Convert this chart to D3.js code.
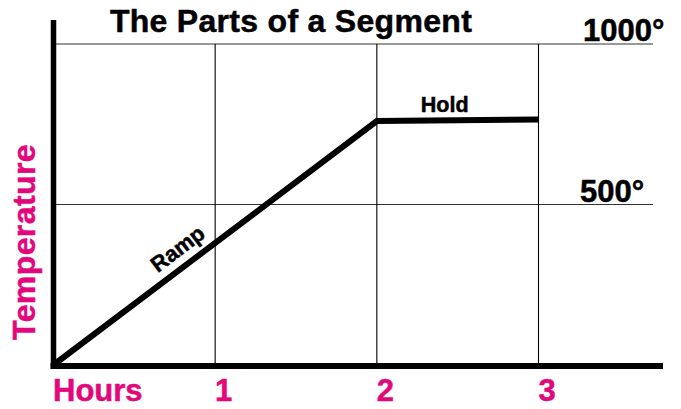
<!DOCTYPE html>
<html>
<head>
<meta charset="utf-8">
<script src="https://cdn.jsdelivr.net/npm/d3@7"></script>
<style>
  html, body { margin: 0; padding: 0; background: #fff; }
  svg text { font-family: "Liberation Sans", Arial, Helvetica, sans-serif; font-weight: bold; stroke-width: 0.5px; }
</style>
</head>
<body>
<div id="chart"></div>
<script>
// data
var hours = [0, 2, 3];
var temps = [0, 760, 765];
var hourTicks = [1, 2, 3];
var tempTicks = [500, 1000];
var tempLabels = ['500°', '1000°'];
var segmentNames = ['Ramp', 'Hold'];

var width = 681;
var height = 409;
var pink = '#e2087c';

var x = d3.scaleLinear().domain([0, 3]).range([53.5, 538.5]);
var y = d3.scaleLinear().domain([0, 1000]).range([365, 44]);

var svg = d3.select('#chart')
            .append('svg')
            .attr('width', width)
            .attr('height', height);

// grid
svg.selectAll('.hgrid')
   .data(tempTicks)
   .enter()
   .append('line')
   .attr('class', 'hgrid')
   .attr('x1', x(0) + 2)
   .attr('x2', 653)
   .attr('y1', function(d) { return y(d); })
   .attr('y2', function(d) { return y(d); })
   .style('stroke', '#333')
   .style('stroke-width', 1.2);

svg.selectAll('.vgrid')
   .data(hourTicks)
   .enter()
   .append('line')
   .attr('class', 'vgrid')
   .attr('x1', function(d) { return x(d); })
   .attr('x2', function(d) { return x(d); })
   .attr('y1', y(1000))
   .attr('y2', y(0))
   .style('stroke', '#000')
   .style('stroke-width', 1.1);

// axes (thick)
svg.append('line')
   .attr('x1', x(0)).attr('x2', x(0))
   .attr('y1', 20).attr('y2', y(0) + 4)
   .style('stroke', '#000')
   .style('stroke-width', 5.5);

svg.append('line')
   .attr('x1', x(0) - 3).attr('x2', 663)
   .attr('y1', y(0) + 1).attr('y2', y(0) + 1)
   .style('stroke', '#000')
   .style('stroke-width', 6);

// segment line
var pts = hours.map(function(h, i) { return [h, temps[i]]; });

var line = d3.line()
  .x(function(d) { return x(d[0]) + (d[0] === 0 ? 2.5 : 0); })
  .y(function(d) { return y(d[1]) - (d[1] === 0 ? 2 : 0); });

svg.append('path')
   .datum(pts)
   .attr('d', line)
   .style('fill', 'none')
   .style('stroke', '#000')
   .style('stroke-width', 6)
   .style('stroke-linejoin', 'miter');

// segment labels
var angle = Math.atan2(y(temps[1]) - y(temps[0]), x(hours[1]) - x(hours[0])) * 180 / Math.PI;
var rampH = 0.835;
svg.append('text')
   .attr('transform', 'translate(' + [x(rampH), y(temps[1] * rampH / hours[1])] + ') rotate(' + angle + ')')
   .attr('y', -10.5)
   .attr('text-anchor', 'middle')
   .style('font-size', '22px')
   .style('stroke', '#000')
   .text(segmentNames[0]);

svg.append('text')
   .attr('x', x(2.42))
   .attr('y', y(temps[1]) - 9)
   .attr('text-anchor', 'middle')
   .style('font-size', '21.5px')
   .style('stroke', '#000')
   .text(segmentNames[1]);

// temperature tick labels
svg.selectAll('.tlabel')
   .data(tempTicks)
   .enter()
   .append('text')
   .attr('class', 'tlabel')
   .attr('x', function(d) { return d === 1000 ? 583 : 580; })
   .attr('y', function(d) { return y(d) - 3; })
   .style('font-size', '31px')
   .style('stroke', '#000')
   .text(function(d, i) { return tempLabels[i]; });

// hour labels
svg.selectAll('.hlabel')
   .data(hourTicks)
   .enter()
   .append('text')
   .attr('class', 'hlabel')
   .attr('x', function(d) { return x(d) + 8.5; })
   .attr('y', 401)
   .attr('text-anchor', 'middle')
   .style('font-size', '31px')
   .style('fill', pink)
   .style('stroke', pink)
   .text(function(d) { return d; });

svg.append('text')
   .attr('x', 53)
   .attr('y', 401)
   .style('font-size', '31px')
   .style('fill', pink)
   .style('stroke', pink)
   .text('Hours');

svg.append('text')
   .attr('transform', 'translate(35,242) rotate(-90)')
   .attr('text-anchor', 'middle')
   .style('font-size', '32px')
   .style('letter-spacing', '0.4px')
   .style('fill', pink)
   .style('stroke', pink)
   .text('Temperature');

// title
svg.append('text')
   .attr('x', 291)
   .attr('y', 32)
   .attr('text-anchor', 'middle')
   .style('font-size', '32px')
   .style('letter-spacing', '0.3px')
   .style('stroke', '#000')
   .text('The Parts of a Segment');
</script>
</body>
</html>
